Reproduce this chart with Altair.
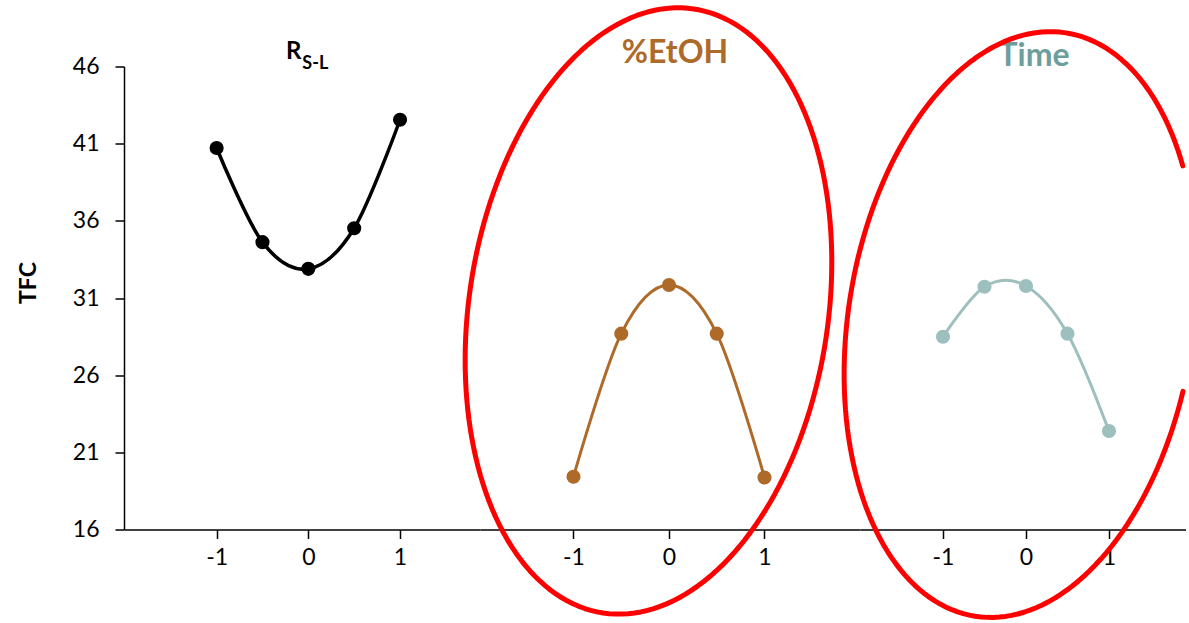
import math
import altair as alt
import pandas as pd

# ---------------- data ----------------
levels = [-1, -0.5, 0, 0.5, 1]
tfc_rsl = [40.72, 34.62, 32.89, 35.52, 42.55]
tfc_etoh = [19.42, 28.69, 31.84, 28.69, 19.37]
tfc_time = [28.49, 31.73, 31.78, 28.69, 22.38]
y_ticks = [16, 21, 26, 31, 36, 41, 46]
x_ticks = [-1, 0, 1]
panel_titles = ["R", "%EtOH", "Time"]
rsl_subscript = ["S-L"]

FONT = "Lato"
BLACK = "#000000"
BROWN = "#AE6A28"
TEAL = "#9DBFBE"
TEAL_TITLE = "#6E9E9C"
RED = "#FF0000"

H = 463
Y_DOMAIN = [16, 46]

W1, XD1 = 356, [-2.01, 1.872]
W2, XD2 = 380, [-1.979, 2.0]
W3, XD3 = 326, [-2.0, 1.928]


def yscale():
    return alt.Scale(domain=Y_DOMAIN, nice=False, zero=False)


def xscale(dom):
    return alt.Scale(domain=dom, nice=False, zero=False)


def x_axis():
    return alt.Axis(values=x_ticks, labelExpr="'' + datum.value", title=None, grid=False,
                    domainColor=BLACK, domainWidth=1.5, tickColor=BLACK, tickWidth=1.5,
                    tickSize=9, labelFont=FONT, labelFontSize=23, labelColor=BLACK,
                    labelPadding=8)


def y_axis():
    return alt.Axis(values=y_ticks, labelExpr="'' + datum.value", title="TFC", grid=False,
                    domainColor=BLACK, domainWidth=1.5, tickColor=BLACK, tickWidth=1.5,
                    tickSize=9, labelFont=FONT, labelFontSize=23, labelColor=BLACK,
                    labelPadding=16, titleFont=FONT, titleFontSize=23, titleFontWeight="bold",
                    titleColor=BLACK, titleAngle=270, titleBaseline="alphabetic",
                    titleAlign="center", titleX=-89, titleY=216)


def series_layers(vals, color, dom, show_y, lw=3):
    df = pd.DataFrame({"x": levels, "tfc": vals})
    base = alt.Chart(df)
    line = base.mark_line(interpolate="cardinal", color=color, strokeWidth=lw,
                          strokeJoin="round", clip=False).encode(
        x=alt.X("x:Q", scale=xscale(dom), axis=x_axis()),
        y=alt.Y("tfc:Q", scale=yscale(), axis=y_axis() if show_y else None),
    )
    pts = base.mark_circle(size=200, color=color, opacity=1, clip=False).encode(
        x="x:Q", y="tfc:Q"
    )
    return [line, pts]


def title_layer(label, color, size, dx, dy, align="center"):
    return alt.Chart(pd.DataFrame({"label": [label]})).mark_text(
        font=FONT, fontSize=size, fontWeight="bold", color=color, align=align,
        baseline="alphabetic", dx=dx, dy=dy, clip=False
    ).encode(text="label:N", x=alt.datum(0), y=alt.datum(46))


def ellipse_layer(cx, cy, a_px, b_px, tilt_deg, width, dom, xmax=None):
    """Hand-drawn style ellipse annotation: centre in data units, semi-axes in px,
    major axis leaning clockwise by tilt_deg."""
    ux = width / (dom[1] - dom[0])
    uy = H / (Y_DOMAIN[1] - Y_DOMAIN[0])
    s, c = math.sin(math.radians(tilt_deg)), math.cos(math.radians(tilt_deg))
    ch = alt.Chart(alt.sequence(10, 372, 2, as_="deg")).transform_calculate(
        t="datum.deg * PI / 180"
    ).transform_calculate(
        ex=f"{cx} + ({a_px}*sin(datum.t)*{s} + {b_px}*cos(datum.t)*{c}) / {ux}",
        ey=f"{cy} + ({a_px}*sin(datum.t)*{c} - {b_px}*cos(datum.t)*{s}) / {uy}",
    )
    if xmax is not None:
        ch = ch.transform_filter(f"datum.ex <= {xmax}")
    return ch.mark_line(color=RED, strokeWidth=5, strokeCap="round", strokeJoin="round",
                        clip=False).encode(
        x=alt.X("ex:Q"), y=alt.Y("ey:Q"), order=alt.Order("deg:Q")
    )


p1 = alt.layer(
    *series_layers(tfc_rsl, BLACK, XD1, True, lw=3.5),
    title_layer(panel_titles[0], BLACK, 24, -7, -8, align="right"),
    title_layer(rsl_subscript[0], BLACK, 18, -6, 2, align="left"),
).properties(width=W1, height=H)

p2 = alt.layer(
    *series_layers(tfc_etoh, BROWN, XD2, False),
    title_layer(panel_titles[1], BROWN, 32, 6, -4),
    ellipse_layer(-0.215, 30.16, 305.4, 179.6, 8.55, W2, XD2),
).properties(width=W2, height=H)

p3 = alt.layer(
    *series_layers(tfc_time, TEAL, XD3, False),
    title_layer(panel_titles[2], TEAL_TITLE, 32, 8, -1),
    ellipse_layer(-0.066, 29.28, 295.2, 172.5, 8.85, W3, XD3, xmax=1.90),
).properties(width=W3, height=H)

chart = alt.hconcat(p1, p2, p3, spacing=0, bounds="flush").properties(
    padding={"left": 17, "top": 4.5, "right": 0, "bottom": 0},
    background="white",
).configure_view(stroke=None)

chart.save("out.html", embed_options={"renderer": "svg", "actions": False})
